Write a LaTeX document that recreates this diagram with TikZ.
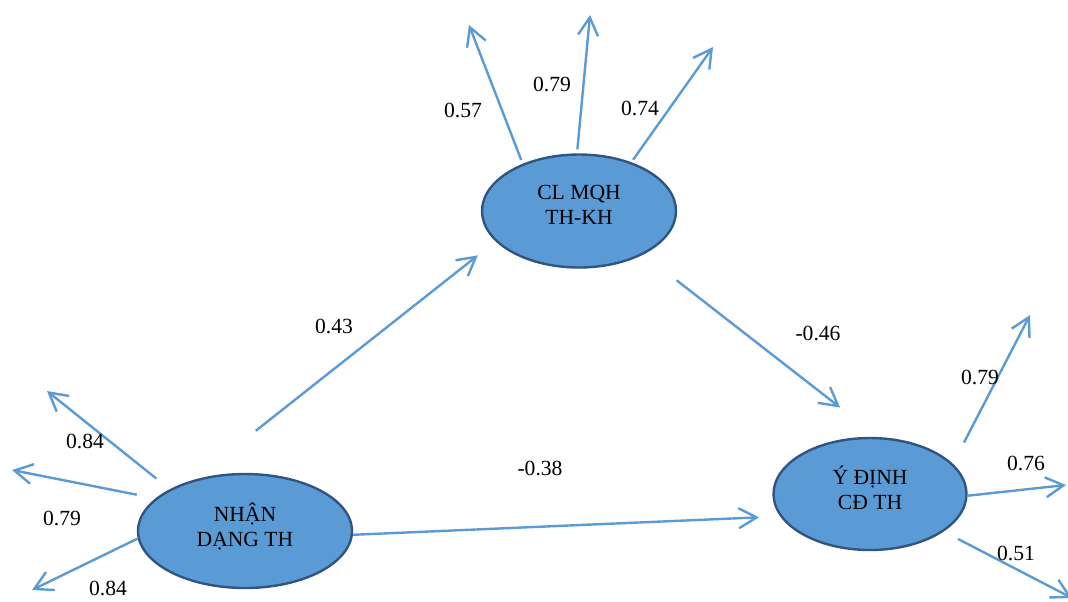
\documentclass[tikz,border=0pt]{standalone}
\usepackage{fontspec}
\setmainfont{Liberation Serif}
\usepackage{xcolor}
\definecolor{NodoAzul}{RGB}{91,155,213}
\definecolor{BordeAzul}{RGB}{47,85,128}
\definecolor{FlechaAzul}{RGB}{91,155,213}
\usepackage{tikz}
\usetikzlibrary{shapes.geometric, arrows.meta}

\begin{document}
\begin{tikzpicture}[x=0.5pt, y=-0.5pt, font=\fontsize{10.8}{12.6}\selectfont,
			latente/.style={ellipse, draw=BordeAzul, line width=1.2pt, fill=NodoAzul, align=center, inner sep=0pt, text depth=6pt},
			carga/.style={draw=FlechaAzul, line width=1.2pt, -{Straight Barb[length=9pt, width=10pt]}},
			coef/.style={inner sep=0pt}]
			\useasboundingbox (0,0) rectangle (1068,601);
			% Constructos
			\node[latente, minimum width=107pt, minimum height=57pt] (nhan) at (245,531) {NHẬN\\DẠNG TH};
			\node[latente, minimum width=97pt, minimum height=56.5pt] (clmqh) at (579,211) {CL MQH\\TH-KH};
			\node[latente, minimum width=96.5pt, minimum height=56pt] (ydinh) at (870,494) {Ý ĐỊNH\\CĐ TH};
			% Extremos libres
			\coordinate (n1) at (47,391);
			\coordinate (n2) at (12,470);
			\coordinate (n3) at (32,590);
			\coordinate (c1) at (469,25);
			\coordinate (c2) at (590,15);
			\coordinate (c3) at (713,47);
			\coordinate (y1) at (1030,315);
			\coordinate (y2) at (1066,485);
			\coordinate (y3) at (1072,598);
			% Cargas de Nhan dang
			\draw[carga, shorten <=8.5pt] (nhan.151) -- (n1);
			\draw[carga, shorten <=9.5pt] (nhan.160) -- (n2);
			\draw[carga] (nhan.184) -- (n3);
			% Cargas de CL MQH
			\draw[carga, shorten <=2pt] (clmqh.140) -- (c1);
			\draw[carga, shorten <=2pt] (clmqh.92) -- (c2);
			\draw[carga, shorten <=1.5pt] (clmqh.43) -- (c3);
			% Cargas de Y dinh
			\draw[carga, shorten <=12pt] (ydinh.20) -- (y1);
			\draw[carga] (ydinh.359) -- (y2);
			\draw[carga, shorten <=8pt] (ydinh.333) -- (y3);
			% Relaciones
			\draw[carga, shorten <=39.5pt, shorten >=11.3pt] (nhan.135) -- (clmqh.200);
			\draw[carga, shorten <=21pt, shorten >=24pt] (clmqh.326) -- (ydinh.82);
			\draw[carga, shorten >=10.5pt] (nhan.358) -- (ydinh.194);
			% Coeficientes
			\node[coef] (r1) at (334,326) {0.43};
			\node[coef] (r2) at (818,333) {-0.46};
			\node[coef] (r3) at (540,468) {-0.38};
			\node[coef] (l1) at (85,441) {0.84};
			\node[coef] (l2) at (62,518) {0.79};
			\node[coef] (l3) at (108,588) {0.84};
			\node[coef] (l4) at (463,110) {0.57};
			\node[coef] (l5) at (552,84) {0.79};
			\node[coef] (l6) at (640,108) {0.74};
			\node[coef] (l7) at (980,377) {0.79};
			\node[coef] (l8) at (1026,463) {0.76};
			\node[coef] (l9) at (1016,553) {0.51};
			\end{tikzpicture}
\end{document}
